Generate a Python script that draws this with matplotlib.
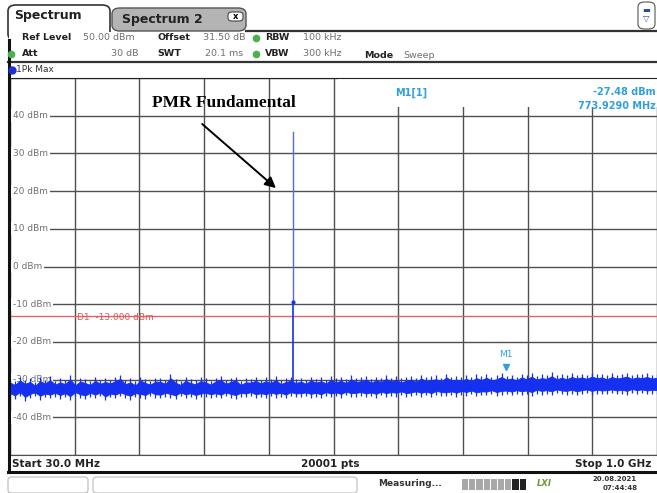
"""Spektrum-Analysator Screenshot (PMR Fundamental) nachgebaut mit matplotlib."""
import numpy as np
import matplotlib
matplotlib.use("Agg")
import matplotlib.pyplot as plt
from matplotlib.patches import Rectangle, FancyBboxPatch

W, H = 657, 493

# --- Daten ---
f_start, f_stop = 30.0, 1000.0          # MHz
y_levels = [40, 30, 20, 10, 0, -10, -20, -30, -40]
y_labels = ["40 dBm", "30 dBm", "20 dBm", "10 dBm", "0 dBm",
            "-10 dBm", "-20 dBm", "-30 dBm", "-40 dBm"]
d1_level = -13.0
peak_freq = 455.0
peak_top = 35.8
peak_mid = -9.5
m1_freq = 773.929
m1_level = -27.48

# Rauschband: obere / untere Spitzen je Frequenz-Bin (dBm), geschätzt
noise_hi = [
    -29.8, -30.4, -29.2, -30.1, -29.6, -30.6, -29.4, -30.0, -29.1, -30.3,
    -29.7, -30.2, -28.9, -30.5, -29.5, -29.9, -30.4, -29.3, -30.1, -29.6,
    -30.0, -29.4, -28.8, -30.2, -29.7, -30.5, -29.2, -29.9, -30.3, -29.5,
    -29.6, -30.1, -28.6, -29.8, -30.4, -29.3, -29.9, -30.2, -29.4, -29.7,
    -30.3, -29.5, -29.0, -30.1, -29.6, -29.2, -30.4, -29.7, -29.8, -29.3,
    -30.0, -29.4, -29.9, -29.1, -30.2, -29.6, -29.3, -29.9, -29.5, -30.1,
    -29.2, -29.8, -29.4, -30.0, -29.1, -29.7, -29.3, -29.9, -28.9, -29.6,
    -29.4, -29.0, -29.8, -29.2, -29.6, -28.8, -29.5, -29.1, -29.7, -29.3,
    -29.0, -29.6, -28.7, -29.4, -29.1, -28.9, -29.5, -28.4, -29.2, -29.0,
    -29.3, -28.8, -29.4, -28.6, -29.1, -28.5, -29.2, -28.9, -28.3, -29.0,
    -28.7, -29.2, -28.4, -28.9, -28.2, -29.0, -28.6, -28.8, -28.1, -28.9,
    -28.5, -28.9, -28.3, -28.7, -28.4, -28.8, -28.2, -28.6, -28.4, -28.9,
    -28.3, -28.7, -28.5, -28.2, -28.8, -28.4, -28.6, -28.3, -28.7, -28.5,
]
noise_lo = [
    -34.6, -35.2, -34.3, -35.6, -34.8, -34.4, -35.3, -34.7, -35.0, -34.5,
    -35.1, -34.6, -35.4, -34.3, -34.9, -35.2, -34.5, -35.0, -34.4, -35.5,
    -34.7, -35.0, -34.4, -34.9, -35.3, -34.6, -34.8, -35.1, -34.3, -34.9,
    -35.0, -34.5, -34.8, -35.2, -34.4, -34.9, -34.6, -35.1, -34.7, -34.5,
    -34.9, -34.6, -35.0, -34.4, -34.8, -35.1, -34.5, -34.7, -34.3, -34.9,
    -34.6, -34.9, -34.4, -34.8, -34.5, -35.0, -34.3, -34.7, -34.6, -34.4,
    -34.8, -34.5, -34.9, -34.3, -34.7, -34.4, -34.8, -34.2, -34.6, -34.5,
    -34.3, -34.7, -34.4, -34.8, -34.2, -34.6, -34.3, -34.5, -34.1, -34.6,
    -34.4, -34.1, -34.5, -34.2, -34.6, -34.0, -34.3, -34.4, -34.1, -34.5,
    -34.0, -34.3, -33.9, -34.4, -34.1, -34.2, -33.8, -34.3, -34.0, -33.9,
    -34.2, -33.8, -34.1, -33.9, -34.3, -33.7, -34.0, -33.8, -34.1, -33.6,
    -33.9, -34.0, -33.7, -34.1, -33.8, -33.6, -34.0, -33.7, -33.9, -33.8,
    -33.6, -33.9, -33.7, -34.0, -33.5, -33.8, -33.6, -33.9, -33.7, -33.8,
]
noise_freq = np.linspace(f_start, f_stop, len(noise_hi))

TRACE = "#1530ee"
MARK = "#2f9fde"
GRID = "#505050"
GRAY = "#707070"


def fx(x):
    return x / W


def fy(y):
    return 1 - y / H


fig = plt.figure(figsize=(W / 100, H / 100), dpi=100)
fig.patch.set_facecolor("white")

# --- Diagramm ---
ax = fig.add_axes([fx(10), fy(455), (657 - 10) / W, (455 - 78) / H])
ax.set_xlim(f_start, f_stop)
ax.set_ylim(-50, 50)
ax.set_xticks(np.linspace(f_start, f_stop, 11))
ax.set_yticks(np.arange(-50, 51, 10))
ax.tick_params(length=0, labelleft=False, labelbottom=False)
ax.grid(True, color=GRID, lw=1.0)
ax.set_axisbelow(True)
ax.spines["right"].set_visible(False)
ax.spines["left"].set_visible(False)
ax.spines["top"].set_color("#222222")
ax.spines["bottom"].set_color(GRID)

# Marker-Infofeld oben rechts verdeckt das Gitter
ax.add_patch(Rectangle((521, 42.3), 500, 7.7, facecolor="white",
                       edgecolor="none", zorder=1.5))
ax.text(0.62, 0.975, "M1[1]", transform=ax.transAxes, color=MARK, fontsize=7,
        fontweight="bold", va="top", ha="center", zorder=3)
ax.text(0.998, 0.975, f"{m1_level:.2f} dBm", transform=ax.transAxes, color=MARK,
        fontsize=7, fontweight="bold", va="top", ha="right", zorder=3)
ax.text(0.998, 0.94, f"{m1_freq:.4f} MHz", transform=ax.transAxes, color=MARK,
        fontsize=7, fontweight="bold", va="top", ha="right", zorder=3)

# y-Beschriftungen im Diagramm
for lv, lab in zip(y_levels, y_labels):
    ax.text(0.004, lv, lab, transform=ax.get_yaxis_transform(), color=GRAY,
            fontsize=6.5, va="center", ha="left", zorder=2,
            bbox=dict(facecolor="white", edgecolor="none", pad=1.5))

# Display-Linie D1
ax.axhline(d1_level, color="#e06666", lw=1.0, zorder=2.5)
ax.text(0.103, d1_level - 0.5, "D1  -13.000 dBm", transform=ax.get_yaxis_transform(),
        color="#e05555", fontsize=6.5, va="center", ha="left", zorder=2.6)

# Rauschband: Kern plus Spitzen
hi = np.array(noise_hi)
lo = np.array(noise_lo)
ax.fill_between(noise_freq, lo + 1.0, hi - 1.0, color=TRACE, lw=0.6,
                edgecolor=TRACE, zorder=4)
ax.vlines(noise_freq, lo, hi, color=TRACE, lw=0.9, zorder=4)

# Träger
ax.plot([peak_freq, peak_freq], [peak_mid, peak_top], color="#5868ee", lw=1.0, zorder=4)
ax.plot([peak_freq, peak_freq], [-31, peak_mid], color=TRACE, lw=1.2, zorder=4)
ax.plot([peak_freq], [peak_mid], "o", color=TRACE, ms=2, zorder=4)

# Marker M1
ax.plot([m1_freq], [m1_level + 0.8], marker="v", color=MARK, ms=5, zorder=5)
ax.text(m1_freq, m1_level + 3.0, "M1", color=MARK, fontsize=6.5, ha="center",
        va="bottom", zorder=5)

# Annotation
ax.text(0.33, 0.935, "PMR Fundamental", transform=ax.transAxes,
        family="Liberation Serif", fontweight="bold", fontsize=12.5,
        ha="center", va="center", zorder=6)
ax.annotate("", xy=(0.411, 0.708), xytext=(0.297, 0.878),
            xycoords=ax.transAxes, textcoords=ax.transAxes,
            arrowprops=dict(arrowstyle="-|>", color="black", lw=1.4,
                            mutation_scale=16, shrinkA=0, shrinkB=0), zorder=6)

# --- Kopfbereich ---
tab1 = FancyBboxPatch((fx(8), fy(40)), fx(102), 35 / H,
                      boxstyle="round,pad=0,rounding_size=0.012",
                      transform=fig.transFigure, facecolor="white",
                      edgecolor="#333333", lw=1.2)
fig.patches.append(tab1)
tab2 = FancyBboxPatch((fx(112), fy(31)), fx(134), 23 / H,
                      boxstyle="round,pad=0,rounding_size=0.012",
                      transform=fig.transFigure, facecolor="#b4b4b4",
                      edgecolor="#555555", lw=1.0)
fig.patches.append(tab2)
fig.patches.append(Rectangle((fx(9), fy(62)), fx(648), 30 / H,
                             transform=fig.transFigure, facecolor="white",
                             edgecolor="none"))
fig.text(fx(14), fy(15), "Spectrum", fontsize=9, fontweight="bold", color="#222222",
         va="center")
fig.text(fx(122), fy(19), "Spectrum 2", fontsize=9, fontweight="bold", color="#222222",
         va="center")
fig.patches.append(FancyBboxPatch((fx(228), fy(21)), fx(15), 9 / H,
                                  boxstyle="round,pad=0,rounding_size=0.006",
                                  transform=fig.transFigure, facecolor="white",
                                  edgecolor="#444444", lw=0.8))
fig.text(fx(235.5), fy(16.5), "x", fontsize=6, fontweight="bold", ha="center",
         va="center")
fig.patches.append(FancyBboxPatch((fx(638), fy(29)), fx(17), 27 / H,
                                  boxstyle="round,pad=0,rounding_size=0.01",
                                  transform=fig.transFigure, facecolor="white",
                                  edgecolor="#555555", lw=0.8))
fig.text(fx(646.5), fy(10), "▬", fontsize=6, color="#2a4a9a", ha="center", va="center")
fig.text(fx(646.5), fy(18), "▽", fontsize=6, color="#2a4a9a", ha="center", va="center")

lines_fig = [
    ((246, 657), (31, 31), 1.6, "#333333"),
    ((8, 657), (62, 62), 1.6, "#333333"),
    ((8, 657), (472, 472), 2.2, "#111111"),
    ((9, 9), (40, 472), 2.2, "#111111"),
]
for xs, ys, lw, c in lines_fig:
    fig.add_artist(plt.Line2D([fx(v) for v in xs], [fy(v) for v in ys], lw=lw,
                              color=c, transform=fig.transFigure))

info = [
    (22, 38, "Ref Level", True), (83, 38, "50.00 dBm", False),
    (157, 38, "Offset", True), (203, 38, "31.50 dB", False),
    (265, 38, "RBW", True), (303, 38, "100 kHz", False),
    (22, 54, "Att", True), (111, 54, "30 dB", False),
    (157, 54, "SWT", True), (205, 54, "20.1 ms", False),
    (265, 54, "VBW", True), (303, 54, "300 kHz", False),
    (364, 56, "Mode", True), (403, 56, "Sweep", False),
]
for x, y, s, b in info:
    fig.text(fx(x), fy(y), s, fontsize=6.8, fontweight="bold" if b else "normal",
             color="#222222" if b else GRAY, va="center")
for x, y in [(256, 38), (256, 54), (11, 54)]:
    fig.add_artist(plt.Line2D([fx(x)], [fy(y)], marker="o", ms=4.5, color="#4cb04c",
                              transform=fig.transFigure))
fig.add_artist(plt.Line2D([fx(12)], [fy(70)], marker="o", ms=5, color="#2030d0",
                          transform=fig.transFigure))
fig.text(fx(16), fy(70), "1Pk Max", fontsize=6.5, color="#333333", va="center")

# --- Fußzeile ---
fig.text(fx(12), fy(464), "Start 30.0 MHz", fontsize=7.5, fontweight="bold",
         color="#222222", va="center")
fig.text(fx(330), fy(464), "20001 pts", fontsize=7.5, fontweight="bold",
         color="#222222", va="center", ha="center")
fig.text(fx(651), fy(464), "Stop 1.0 GHz", fontsize=7.5, fontweight="bold",
         color="#222222", va="center", ha="right")

for x0, x1 in [(8, 88), (93, 357)]:
    fig.patches.append(FancyBboxPatch((fx(x0), fy(493)), fx(x1 - x0), 16 / H,
                                      boxstyle="round,pad=0,rounding_size=0.006",
                                      transform=fig.transFigure, facecolor="white",
                                      edgecolor="#bbbbbb", lw=0.8))
fig.text(fx(378), fy(484), "Measuring...", fontsize=6.5, fontweight="bold",
         color="#333333", va="center")
for i in range(9):
    c = "#222222" if i >= 7 else "#a8a8a8"
    fig.patches.append(Rectangle((fx(462 + i * 7.2), fy(490)), fx(6.2), 11 / H,
                                 transform=fig.transFigure, facecolor=c,
                                 edgecolor="none"))
fig.text(fx(544), fy(484), "LXI", fontsize=6, fontweight="bold", color="#6a9a3a",
         style="italic", ha="center", va="center")
fig.text(fx(615), fy(479), "20.08.2021", fontsize=5, fontweight="bold",
         color="#333333", ha="center", va="center")
fig.text(fx(620), fy(488.5), "07:44:48", fontsize=5, fontweight="bold",
         color="#333333", ha="center", va="center")

fig.savefig("out.png", dpi=100)
